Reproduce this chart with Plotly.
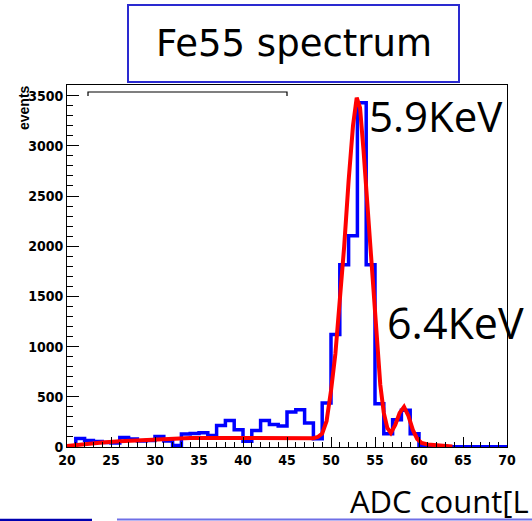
import plotly.graph_objects as go

# ---------------- data ----------------
bin_low_edges = list(range(20, 70))  # 1 ADC-count wide bins, 20..70
bin_counts = [10, 85, 65, 55, 45, 40, 95, 80, 60, 65,
              105, 60, 15, 130, 135, 142, 115, 215, 265, 172,
              58, 165, 265, 225, 208, 348, 372, 238, 82, 438,
              1120, 1815, 2105, 3430, 1815, 432, 132, 272, 365, 132,
              15, 3, 3, 3, 3, 3, 3, 3, 3, 3]
bin_width = 1

fit_x = [20.0, 22, 24, 26, 28, 30, 32, 34, 36, 38, 40, 42, 44, 46, 47, 48,
         48.5, 49, 49.5, 50, 50.5, 51, 51.5, 52, 52.5, 52.92, 53.3, 53.7,
         54.2, 54.7, 55.2, 55.6, 56.0, 56.4, 56.8, 57.3, 57.8, 58.3, 58.8,
         59.3, 59.8, 60.3, 61, 62, 63, 63.8]
fit_y = [10, 30, 45, 58, 68, 78, 85, 90, 90, 88, 88, 87, 86, 85, 85, 88,
         100, 135, 260, 560, 930, 1420, 2000, 2650, 3200, 3480, 3380, 2950,
         2350, 1700, 1120, 620, 340, 190, 140, 220, 340, 400, 310,
         170, 80, 40, 25, 18, 10, 5]

x_tick_vals = [20, 25, 30, 35, 40, 45, 50, 55, 60, 65, 70]
y_tick_vals = [0, 500, 1000, 1500, 2000, 2500, 3000, 3500]

title_text = "Fe55 spectrum"
peak1_text = "5.9KeV"
peak2_text = "6.4KeV"
xlabel_text = "ADC count[L"
ytitle_text = "events"

# ---------------- geometry helpers (pixel -> paper) ----------------
W, H = 532, 521
L, R, T, B = 67, 507, 85, 447


def px(xp):
    return (xp - L) / (R - L)


def py(yp):
    return (B - yp) / (B - T)


# step outline built from the bins
step_x = bin_low_edges + [bin_low_edges[-1] + bin_width]
step_y = bin_counts + [bin_counts[-1]]

fig = go.Figure()
fig.add_trace(go.Scatter(x=step_x, y=step_y, mode="lines",
                         line=dict(color="#0000ff", width=3.5, shape="hv"),
                         hoverinfo="skip", showlegend=False))
fig.add_trace(go.Scatter(x=fit_x, y=fit_y, mode="lines",
                         line=dict(color="#ff0000", width=4),
                         hoverinfo="skip", showlegend=False))

tickfont = dict(family="Liberation Sans Narrow, DejaVu Sans Condensed, Liberation Sans",
                size=14, color="black", weight="bold")

fig.update_xaxes(range=[20, 70], tickvals=x_tick_vals, ticks="inside", ticklen=10,
                 tickcolor="black", tickwidth=1, showline=True, linecolor="black",
                 linewidth=1, mirror=True, showgrid=False, zeroline=False,
                 tickfont=tickfont, automargin=False,
                 minor=dict(ticks="inside", ticklen=5, dtick=1, tickcolor="black",
                            showgrid=False))
fig.update_yaxes(range=[0, 3606], tickvals=y_tick_vals, ticks="inside", ticklen=12,
                 tickcolor="black", tickwidth=1, showline=True, linecolor="black",
                 linewidth=1, mirror=True, showgrid=False, zeroline=False,
                 tickfont=tickfont, automargin=False,
                 minor=dict(ticks="inside", ticklen=6, dtick=100, tickcolor="black",
                            showgrid=False))

shapes = [
    # title box
    dict(type="rect", xref="paper", yref="paper", x0=px(128), x1=px(459),
         y0=py(82), y1=py(5), line=dict(color="#2a2ad0", width=2),
         fillcolor="white", layer="above"),
    # remnant of stats box top edge
    dict(type="path", xref="paper", yref="paper",
         path=f"M {px(88)},{py(96)} L {px(88)},{py(92)} L {px(287)},{py(92)} L {px(287)},{py(96)}",
         line=dict(color="black", width=1.2)),
    # slide bottom lines
    dict(type="line", xref="paper", yref="paper", x0=px(0), x1=px(92),
         y0=py(520), y1=py(520), line=dict(color="#0000b0", width=2.5)),
    dict(type="line", xref="paper", yref="paper", x0=px(117), x1=px(540),
         y0=py(519.5), y1=py(519.5), line=dict(color="#6f6fe6", width=2)),
]

annotations = [
    dict(text=title_text, xref="paper", yref="paper", x=px(293.5), y=py(44),
         xanchor="center", yanchor="middle", showarrow=False,
         font=dict(family="DejaVu Sans", size=37, color="black")),
    dict(text=peak1_text, xref="paper", yref="paper", x=px(367), y=py(115),
         xanchor="left", yanchor="middle", showarrow=False,
         font=dict(family="Open Sans", size=42, color="black")),
    dict(text=peak2_text, xref="paper", yref="paper", x=px(385), y=py(322),
         xanchor="left", yanchor="middle", showarrow=False,
         font=dict(family="Open Sans", size=43, color="black")),
    dict(text=xlabel_text, xref="paper", yref="paper", x=px(348), y=py(501),
         xanchor="left", yanchor="middle", showarrow=False,
         font=dict(family="Open Sans", size=31, color="black")),
    dict(text=ytitle_text, xref="paper", yref="paper", x=px(24), y=py(108),
         xanchor="center", yanchor="middle", showarrow=False, textangle=-90,
         font=dict(family="Liberation Sans", size=14, color="black", weight="bold")),
]

fig.update_layout(width=W, height=H,
                  margin=dict(l=L, r=W - R, t=T, b=H - B, pad=0),
                  paper_bgcolor="white", plot_bgcolor="white",
                  shapes=shapes, annotations=annotations, showlegend=False)

fig.write_html("out.html", config={"displayModeBar": False},
               post_script="document.body.style.margin='0';document.body.style.padding='0';"
                           "document.documentElement.style.overflow='hidden';")
